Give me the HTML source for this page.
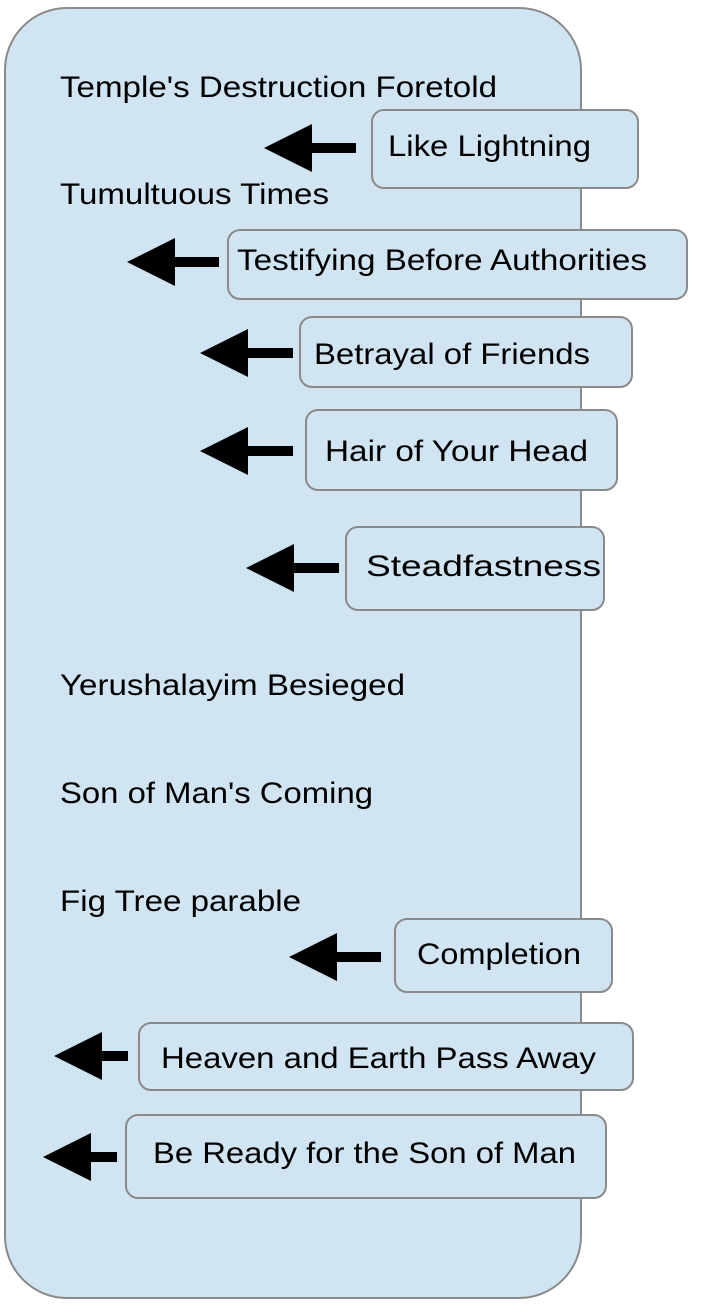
<!DOCTYPE html>
<html><head><meta charset="utf-8"><style>html,body{margin:0;padding:0;background:#fff}svg{display:block}</style></head>
<body>
<svg width="701" height="1310" viewBox="0 0 701 1310" xmlns="http://www.w3.org/2000/svg" font-family="Liberation Sans, Arial, sans-serif" font-size="30" fill="#000">
<rect x="5" y="8" width="576" height="1290" rx="62" ry="62" fill="#d0e4f1" stroke="#8a8a8a" stroke-width="2"/>
<g>
<text x="60" y="97" textLength="437" lengthAdjust="spacingAndGlyphs">Temple's Destruction Foretold</text>
<text x="60" y="204" textLength="269" lengthAdjust="spacingAndGlyphs">Tumultuous Times</text>
<text x="60" y="695" textLength="345" lengthAdjust="spacingAndGlyphs">Yerushalayim Besieged</text>
<text x="60" y="803" textLength="313" lengthAdjust="spacingAndGlyphs">Son of Man's Coming</text>
<text x="60" y="911" textLength="241" lengthAdjust="spacingAndGlyphs">Fig Tree parable</text>
</g>
<g fill="#d0e4f1" stroke="#8a8a8a" stroke-width="2">
<rect x="372" y="110" width="266" height="78" rx="12"/>
<rect x="228" y="230" width="459" height="69" rx="12"/>
<rect x="300" y="317" width="332" height="70" rx="12"/>
<rect x="306" y="410" width="311" height="80" rx="12"/>
<rect x="346" y="527" width="258" height="83" rx="12"/>
<rect x="395" y="919" width="217" height="73" rx="12"/>
<rect x="139" y="1023" width="494" height="67" rx="12"/>
<rect x="126" y="1115" width="480" height="83" rx="12"/>
</g>
<g>
<text x="388" y="156" textLength="203" lengthAdjust="spacingAndGlyphs">Like Lightning</text>
<text x="237" y="270" textLength="410" lengthAdjust="spacingAndGlyphs">Testifying Before Authorities</text>
<text x="314" y="364" textLength="276" lengthAdjust="spacingAndGlyphs">Betrayal of Friends</text>
<text x="325" y="461" textLength="263" lengthAdjust="spacingAndGlyphs">Hair of Your Head</text>
<text x="366" y="576" textLength="235" lengthAdjust="spacingAndGlyphs">Steadfastness</text>
<text x="417" y="964" textLength="164" lengthAdjust="spacingAndGlyphs">Completion</text>
<text x="161" y="1068" textLength="435" lengthAdjust="spacingAndGlyphs">Heaven and Earth Pass Away</text>
<text x="153" y="1163" textLength="423" lengthAdjust="spacingAndGlyphs">Be Ready for the Son of Man</text>
</g>
<g fill="#000">
<path d="M264 148 L312 124 L312 143 L356 143 L356 153 L312 153 L312 172 Z"/>
<path d="M127 262 L175 238 L175 257 L219 257 L219 267 L175 267 L175 286 Z"/>
<path d="M200 353 L248 329 L248 348 L293 348 L293 358 L248 358 L248 377 Z"/>
<path d="M200 451 L248 427 L248 446 L293 446 L293 456 L248 456 L248 475 Z"/>
<path d="M246 568 L294 544 L294 563 L339 563 L339 573 L294 573 L294 592 Z"/>
<path d="M289 957 L337 933 L337 952 L381 952 L381 962 L337 962 L337 981 Z"/>
<path d="M54 1056 L102 1032 L102 1051 L128 1051 L128 1061 L102 1061 L102 1080 Z"/>
<path d="M43 1157 L91 1133 L91 1152 L117 1152 L117 1162 L91 1162 L91 1181 Z"/>
</g>
</svg>
</body></html>
